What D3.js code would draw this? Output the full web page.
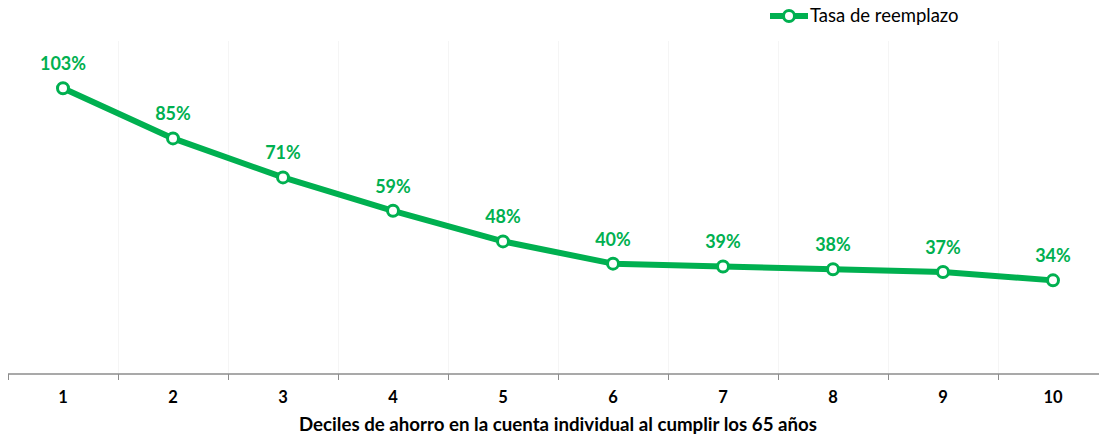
<!DOCTYPE html>
<html>
<head>
<meta charset="utf-8">
<script src="https://cdn.jsdelivr.net/npm/d3@7"></script>
<style>
  html, body { margin: 0; padding: 0; background: #fff; }
  svg { display: block; font-family: Lato, "Open Sans", sans-serif; }
</style>
</head>
<body>
<svg id="chart" width="1099" height="439"></svg>
<script>
// Replacement rate by savings decile at age 65
const deciles = ["1", "2", "3", "4", "5", "6", "7", "8", "9", "10"];
const tasa = [103, 85, 71, 59, 48, 40, 39, 38, 37, 34];
const seriesName = "Tasa de reemplazo";
const axisTitle = "Deciles de ahorro en la cuenta individual al cumplir los 65 años";

const green = "#00B050";
const svg = d3.select("#chart");

const plotLeft = 8, plotRight = 1108, plotBottom = 375, plotTop = 41;

const x = d3.scaleBand().domain(deciles).range([plotLeft, plotRight]);
const y = d3.scaleLinear().domain([0, 120]).range([plotBottom, plotTop]);

// faint vertical gridlines at category boundaries
const bounds = deciles.map(d => x(d)).concat([plotRight]);
svg.append("g").selectAll("line").data(bounds.slice(1, -1)).join("line")
  .attr("x1", d => d + 0.5).attr("x2", d => d + 0.5)
  .attr("y1", plotTop).attr("y2", plotBottom)
  .attr("stroke", "#f5f5f5").attr("stroke-width", 1);

// category axis
const ax = svg.append("g").attr("transform", `translate(0,${plotBottom - 1})`);
ax.append("line").attr("x1", plotLeft).attr("x2", plotRight)
  .attr("stroke", "#8c8c8c").attr("stroke-width", 1.5);
ax.selectAll("line.tick").data(bounds).join("line").attr("class", "tick")
  .attr("x1", d => d + 0.5).attr("x2", d => d + 0.5)
  .attr("y1", 0).attr("y2", 6)
  .attr("stroke", "#8c8c8c").attr("stroke-width", 1);
ax.selectAll("text").data(deciles).join("text")
  .attr("x", d => x(d) + x.bandwidth() / 2)
  .attr("y", 29)
  .attr("text-anchor", "middle")
  .attr("font-size", 16.5).attr("font-weight", "bold").attr("fill", "#000")
  .text(d => d);

svg.append("text")
  .attr("x", 558).attr("y", 431)
  .attr("text-anchor", "middle")
  .attr("font-size", 18.7).attr("font-weight", "bold").attr("fill", "#000")
  .text(axisTitle);

// series line
const line = d3.line()
  .x((d, i) => x(deciles[i]) + x.bandwidth() / 2)
  .y(d => y(d));

svg.append("path").datum(tasa)
  .attr("d", line)
  .attr("fill", "none")
  .attr("stroke", green)
  .attr("stroke-width", 6)
  .attr("stroke-linejoin", "round");

svg.append("g").selectAll("circle").data(tasa).join("circle")
  .attr("cx", (d, i) => x(deciles[i]) + x.bandwidth() / 2)
  .attr("cy", d => y(d))
  .attr("r", 5.5)
  .attr("fill", "#fff")
  .attr("stroke", green)
  .attr("stroke-width", 3);

svg.append("g").selectAll("text").data(tasa).join("text")
  .attr("x", (d, i) => x(deciles[i]) + x.bandwidth() / 2)
  .attr("y", d => y(d) - 18)
  .attr("text-anchor", "middle")
  .attr("font-size", 18).attr("font-weight", "bold").attr("fill", green)
  .text(d => d + "%");

// legend
const lg = svg.append("g").attr("transform", "translate(770,16)");
lg.append("line").attr("x1", 0).attr("x2", 38).attr("y1", 0).attr("y2", 0)
  .attr("stroke", green).attr("stroke-width", 6);
lg.append("circle").attr("cx", 19).attr("cy", 0).attr("r", 5.5)
  .attr("fill", "#fff").attr("stroke", green).attr("stroke-width", 3);
lg.append("text").attr("x", 40).attr("y", 6)
  .attr("font-size", 18.5).attr("fill", "#000")
  .text(seriesName);
</script>
</body>
</html>
